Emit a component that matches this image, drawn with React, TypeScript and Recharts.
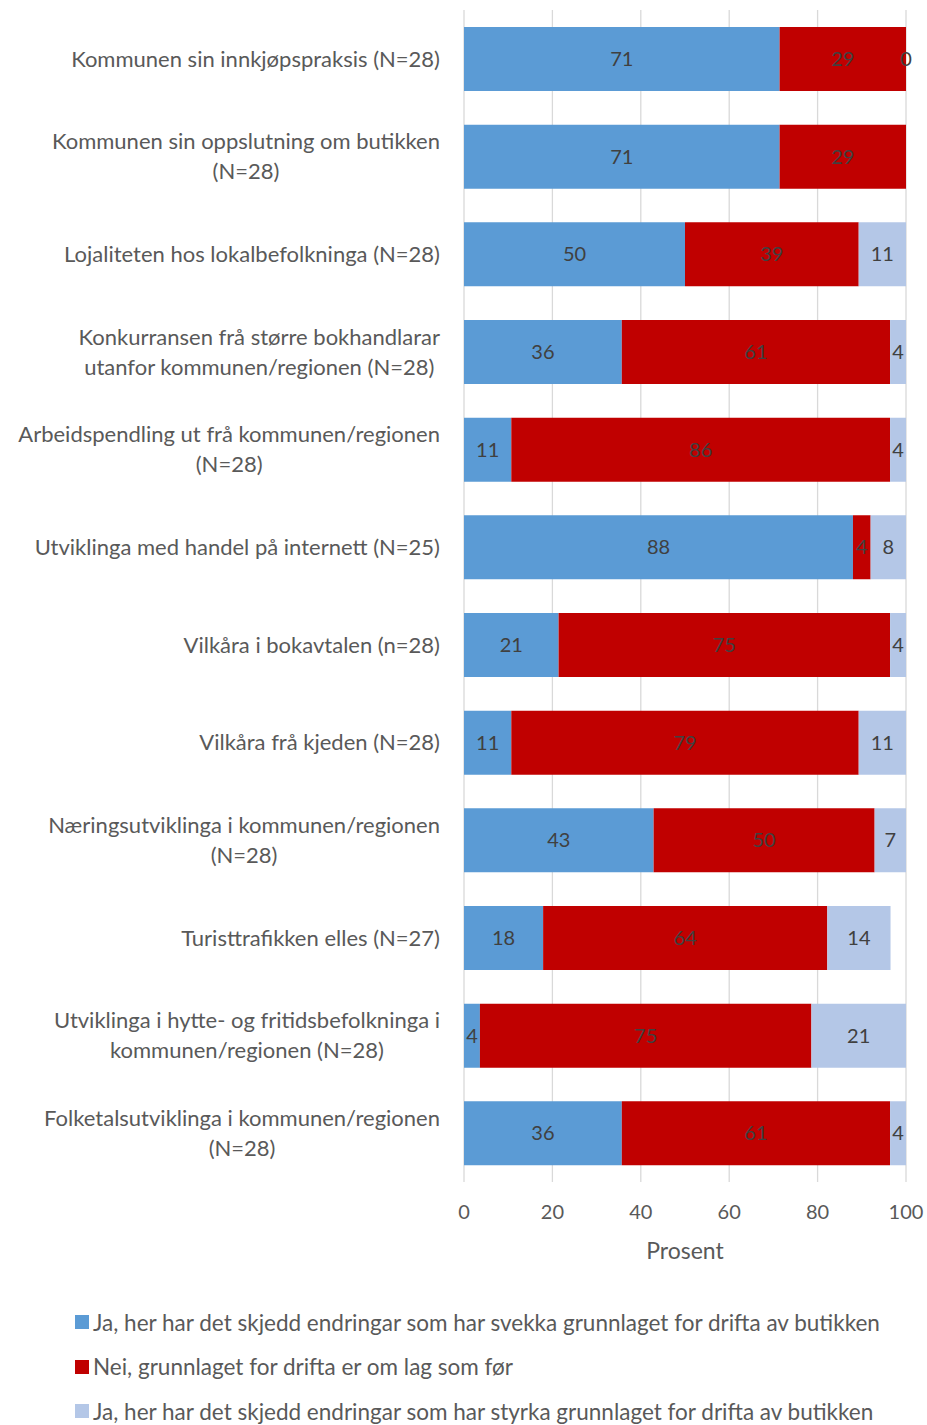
import React from 'react';
import { BarChart, Bar, XAxis, YAxis, CartesianGrid, LabelList } from 'recharts';

document.body.style.margin = '0';

const categories = [
  'Kommunen sin innkjøpspraksis (N=28)',
  'Kommunen sin oppslutning om butikken\n(N=28)',
  'Lojaliteten hos lokalbefolkninga (N=28)',
  'Konkurransen frå større bokhandlarar\nutanfor kommunen/regionen (N=28)',
  'Arbeidspendling ut frå kommunen/regionen\n(N=28)',
  'Utviklinga med handel på internett (N=25)',
  'Vilkåra i bokavtalen (n=28)',
  'Vilkåra frå kjeden (N=28)',
  'Næringsutviklinga i kommunen/regionen\n(N=28)',
  'Turisttrafikken elles (N=27)',
  'Utviklinga i hytte- og fritidsbefolkninga i\nkommunen/regionen (N=28)',
  'Folketalsutviklinga i kommunen/regionen\n(N=28)',
];

const svekka = [71.4, 71.4, 50, 35.7, 10.7, 88, 21.4, 10.7, 42.9, 17.9, 3.6, 35.7];
const somFor = [28.6, 28.6, 39.3, 60.7, 85.7, 4, 75, 78.6, 50, 64.3, 75, 60.7];
const styrka = [0, null, 10.7, 3.6, 3.6, 8, 3.6, 10.7, 7.1, 14.3, 21.4, 3.6];

const xTicks = [0, 20, 40, 60, 80, 100];

const SERIES = [
  { key: 'svekka', name: 'Ja, her har det skjedd endringar som har svekka grunnlaget for drifta av butikken', color: '#5B9BD5' },
  { key: 'somFor', name: 'Nei, grunnlaget for drifta er om lag som før', color: '#C00000' },
  { key: 'styrka', name: 'Ja, her har det skjedd endringar som har styrka grunnlaget for drifta av butikken', color: '#B4C7E7' },
];

const FONT = 'Lato, "Open Sans", sans-serif';
const CAT_SIZE = 22;

const data = categories.map((c, i) => ({
  name: c,
  svekka: svekka[i],
  somFor: somFor[i],
  styrka: styrka[i],
}));

let ctx: CanvasRenderingContext2D | null = null;
function textWidth(s: string) {
  if (!ctx) ctx = document.createElement('canvas').getContext('2d');
  if (!ctx) return s.length * CAT_SIZE * 0.5;
  ctx.font = `${CAT_SIZE}px Lato`;
  return ctx.measureText(s).width;
}

// multi-line labels: block right-aligned, lines centred within it (like Excel)
function CategoryTick(props: any) {
  const { x, y, payload } = props;
  const lines = String(payload.value).split('\n');
  const lh = 30;
  const start = -((lines.length - 1) * lh) / 2;
  const right = x - 16;
  const maxW = Math.max(...lines.map(textWidth));
  const cx = lines.length > 1 ? right - maxW / 2 : right;
  const anchor = lines.length > 1 ? 'middle' : 'end';
  return (
    <text x={cx} y={y} textAnchor={anchor} fill="#595959" fontSize={CAT_SIZE} fontFamily={FONT}>
      {lines.map((l, i) => (
        <tspan key={i} x={cx} y={y + start + i * lh} dy="0.35em">{l}</tspan>
      ))}
    </text>
  );
}

function ValueTick(props: any) {
  const { x, y, payload } = props;
  return (
    <text x={x} y={y + 37} textAnchor="middle" fill="#595959" fontSize={20} fontFamily={FONT}>
      {payload.value}
    </text>
  );
}

const fmt = (v: any) => (v === null || v === undefined ? '' : String(Math.round(Number(v))));

// zero-width segments get no rectangle, so their "0" label is drawn at the stack end
function ZeroEndLabel(props: any) {
  const { x, y, width, height, index } = props;
  if (styrka[index] !== 0) return null;
  return (
    <text x={x + width} y={y + height / 2} dy="0.35em" textAnchor="middle" fill="#404040" fontSize={20} fontFamily={FONT}>
      {fmt(styrka[index])}
    </text>
  );
}

export default function App() {
  return (
    <div style={{ position: 'relative', width: 927, height: 1425, background: '#fff' }}>
      <BarChart
        width={927}
        height={1290}
        data={data}
        layout="vertical"
        margin={{ top: 10, right: 21, left: 0, bottom: 0 }}
      >
        <CartesianGrid horizontal={false} stroke="#D9D9D9" strokeWidth={1.3} />
        <XAxis
          type="number"
          domain={[0, 100]}
          ticks={xTicks}
          axisLine={false}
          tickLine={false}
          tickSize={0}
          tickMargin={0}
          height={108}
          tick={<ValueTick />}
          label={{ value: 'Prosent', position: 'insideTop', offset: 61, fill: '#595959', fontSize: 23, fontFamily: FONT }}
        />
        <YAxis
          type="category"
          dataKey="name"
          width={464}
          axisLine={false}
          tickLine={false}
          tick={<CategoryTick />}
          interval={0}
        />
        {SERIES.map(s => (
          <Bar key={s.key} dataKey={s.key} stackId="a" fill={s.color} barSize={64} isAnimationActive={false}>
            <LabelList dataKey={s.key} position="center" formatter={fmt} fill="#404040" fontSize={20} fontFamily={FONT} />
            {s.key === 'somFor' && <LabelList dataKey={s.key} content={<ZeroEndLabel />} />}
          </Bar>
        ))}
      </BarChart>
      <div style={{ position: 'absolute', left: 75, top: 1300, fontFamily: FONT, fontSize: 22.5, color: '#595959' }}>
        {SERIES.map(s => (
          <div key={s.key} style={{ display: 'flex', alignItems: 'center', height: 44.5, whiteSpace: 'nowrap' }}>
            <span style={{ display: 'inline-block', width: 14, height: 14, background: s.color, marginRight: 4 }} />
            <span>{s.name}</span>
          </div>
        ))}
      </div>
    </div>
  );
}
